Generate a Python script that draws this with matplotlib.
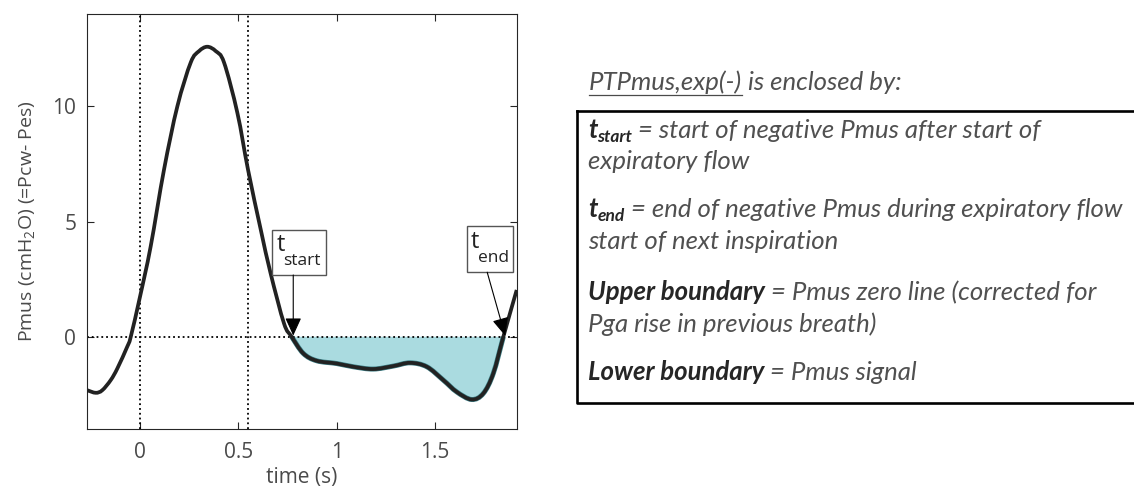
import matplotlib
matplotlib.use("Agg")
import matplotlib.pyplot as plt
from matplotlib.path import Path
from matplotlib.patches import PathPatch, Rectangle
from matplotlib.transforms import IdentityTransform
import numpy as np

# Pmus trace (time in s, Pmus in cmH2O)
t = [-0.268, -0.225, -0.192, -0.149, -0.115, -0.065, -0.047, 0.0, 0.054, 0.122,
     0.190, 0.258, 0.300, 0.342, 0.385, 0.427, 0.495, 0.549, 0.614, 0.664,
     0.732, 0.771, 0.830, 0.898, 1.0, 1.084, 1.186, 1.288, 1.373, 1.458,
     1.542, 1.610, 1.686, 1.745, 1.796, 1.847, 1.915]
pmus = [-2.32, -2.43, -2.32, -1.88, -1.37, -0.43, 0.0, 1.74, 3.91, 7.25,
        10.0, 11.9, 12.39, 12.58, 12.39, 11.9, 9.71, 7.25, 4.64, 2.75,
        0.58, 0.0, -0.72, -1.04, -1.16, -1.30, -1.40, -1.27, -1.13, -1.30,
        -1.88, -2.39, -2.72, -2.46, -1.59, 0.0, 2.03]

t_start = 0.771
t_end = 1.847
vlines = [0.0, 0.55]
xticks = [0, 0.5, 1, 1.5]
xticklabels = ['0', '0.5', '1', '1.5']
yticks = [0, 5, 10]

header = "PTPmus,exp(-)"
header_rest = " is enclosed by:"
# each row: list of (text, style) ; style: n = normal, b = bold, s = bold subscript
rows = [
    [("t", "b"), ("start", "s"), (" = start of negative Pmus after start of", "n")],
    [("expiratory flow", "n")],
    [("t", "b"), ("end", "s"), (" = end of negative Pmus during expiratory flow", "n")],
    [("start of next inspiration", "n")],
    [("Upper boundary", "b"), (" = Pmus zero line (corrected for", "n")],
    [("Pga rise in previous breath)", "n")],
    [("Lower boundary", "b"), (" = Pmus signal", "n")],
]
row_baselines = [138, 169, 217, 249, 300, 332, 380]

W, H = 1134, 494
plt.rcParams['font.family'] = ['Open Sans', 'DejaVu Sans']
plt.rcParams['mathtext.fontset'] = 'custom'
plt.rcParams['mathtext.rm'] = 'Open Sans'
plt.rcParams['mathtext.it'] = 'Open Sans:italic'

grey = '#4a4a4a'


def smooth_path(xs, ys):
    # cubic bezier (catmull-rom) through the read points
    pts = np.column_stack([xs, ys])
    verts = [pts[0]]
    codes = [Path.MOVETO]
    n = len(pts)
    for i in range(n - 1):
        p0 = pts[max(i - 1, 0)]
        p1 = pts[i]
        p2 = pts[i + 1]
        p3 = pts[min(i + 2, n - 1)]
        verts += [p1 + (p2 - p0) / 6, p2 - (p3 - p1) / 6, p2]
        codes += [Path.CURVE4] * 3
    return verts, codes


fig = plt.figure(figsize=(W/100, H/100), dpi=100)
ax = fig.add_axes([87.3/W, 1-429/H, (516.7-87.3)/W, (429-14)/H])

t_arr = np.array(t)
p_arr = np.array(pmus)
m = (t_arr >= t_start) & (t_arr <= t_end)

fv, fc = smooth_path(t_arr[m], p_arr[m])
fv.append(fv[0])
fc.append(Path.CLOSEPOLY)
ax.add_patch(PathPatch(Path(fv, fc), fc='#aadbe0', ec='none', zorder=1))
ev, ec = smooth_path(t_arr[m], p_arr[m])
ax.add_patch(PathPatch(Path(ev, ec), fc='none', ec='#3d7f86', lw=3.6, zorder=2))
lv, lc = smooth_path(t_arr, p_arr)
ax.add_patch(PathPatch(Path(lv, lc), fc='none', ec='#222222', lw=2.7, zorder=3,
                       capstyle='butt'))

for v in vlines:
    ax.axvline(v, color='black', ls=':', lw=1.3, zorder=2)
ax.axvline(t[0], color='black', ls=':', lw=1.3, zorder=2)
ax.axhline(0, color='black', ls=':', lw=1.3, zorder=2)

ax.set_xlim(-0.268, 1.915)
ax.set_ylim(-4, 14)
ax.set_xticks(xticks)
ax.set_xticklabels(xticklabels)
ax.set_yticks(yticks)
ax.tick_params(direction='in', top=True, right=True, length=5, width=0.8,
               color='#262626', labelcolor=grey, labelsize=15)
ax.tick_params(axis='x', pad=9)
ax.tick_params(axis='y', pad=8)
for s in ax.spines.values():
    s.set_linewidth(0.8)
    s.set_color('#262626')
ax.set_xlabel('time (s)', fontsize=15, color=grey, labelpad=3)
ax.set_ylabel('Pmus (cmH$_2$O) (=Pcw- Pes)', fontsize=14, color=grey, labelpad=11)

# t_start / t_end label boxes with arrows
arr = dict(arrowstyle='-|>,head_length=1.1,head_width=0.5', color='black', lw=0.8,
           shrinkA=0, shrinkB=0)
labels = [
    # box x0, x1, y0, y1 ; sub text ; arrow from -> to
    ((0.670, 0.946, 2.68, 4.64), 'start', (0.779, 2.68), (t_start + 0.008, 0.05)),
    ((1.661, 1.898, 2.80, 4.81), 'end', (1.765, 2.80), (t_end + 0.009, 0.05)),
]
for (x0, x1, y0, y1), sub, a0, a1 in labels:
    ax.add_patch(Rectangle((x0, y0), x1 - x0, y1 - y0, fc='white', ec='#555555',
                           lw=1, zorder=5))
    ax.text(x0 + 0.022, y0 + 1.05, 't', fontsize=17, color='#222222',
            va='baseline', ha='left', zorder=6)
    ax.text(x0 + 0.057, y0 + 0.43, sub, fontsize=12.5, color='#222222',
            va='baseline', ha='left', zorder=6)
    ax.annotate('', xy=a1, xytext=a0, arrowprops=arr, zorder=5)

# right-hand text panel
ident = IdentityTransform()
fig.canvas.draw()
r = fig.canvas.get_renderer()
tf = ['Lato', 'DejaVu Sans']
fs = 18.5


def seg(x, y, s, size=fs, weight='normal', col='#505050'):
    tx = fig.text(x, y, s, transform=ident, va='baseline', ha='left', family=tf,
                  style='italic', color=col, fontsize=size, weight=weight)
    return tx, tx.get_window_extent(r).width


h1, w1 = seg(589, H - 90, header)
h2, w2 = seg(589 + w1, H - 90, header_rest)
fig.add_artist(plt.Line2D([589, 589 + w1], [H - 95, H - 95], transform=ident,
                          color=grey, lw=0.9))

for row, yb in zip(rows, row_baselines):
    x = 588
    for txt, st in row:
        if st == 'n':
            _, w = seg(x, H - yb, txt)
        elif st == 'b':
            _, w = seg(x, H - yb, txt, weight='bold', col='#262626')
        else:
            _, w = seg(x, H - yb - 4, txt, size=12.5, weight='bold', col='#262626')
        x += w

fig.add_artist(plt.Line2D([577, W], [H - 111, H - 111], transform=ident,
                          color='black', lw=1.9))
fig.add_artist(plt.Line2D([577, 577, W], [H - 111, H - 403, H - 403], transform=ident,
                          color='black', lw=1.9))

fig.savefig('out.png', dpi=100)
